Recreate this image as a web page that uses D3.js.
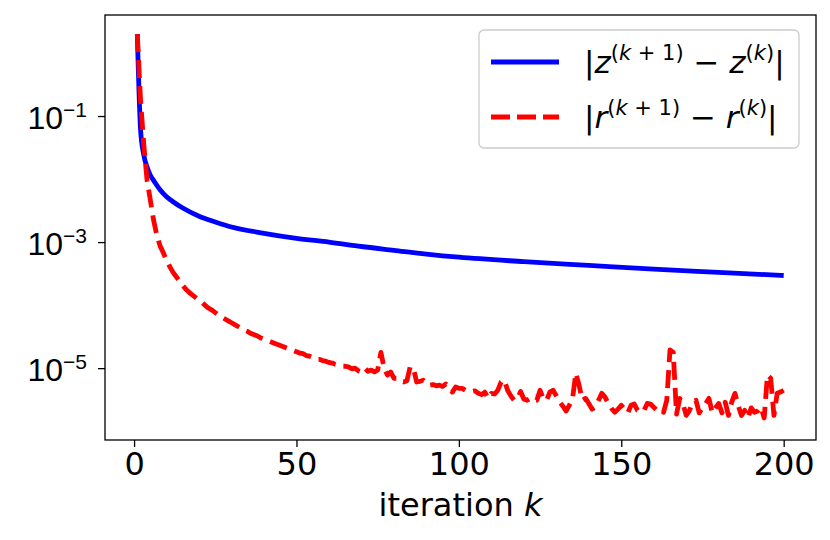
<!DOCTYPE html>
<html>
<head>
<meta charset="utf-8">
<script src="https://cdn.jsdelivr.net/npm/d3@7"></script>
<style>
  body { margin: 0; background: #fff; }
  svg { display: block; font-family: "DejaVu Sans", sans-serif; }
</style>
</head>
<body>
<svg id="chart"></svg>
<script>
// |z^(k+1) - z^(k)| at a few iterations (log10 values)
const zIter = [1, 2, 3, 4, 5, 6, 8, 10, 12, 15, 20, 25, 30, 40, 50, 60, 70, 80, 90, 100, 120, 140, 160, 180, 200];
const zLog = [0.30, -1.22, -1.62, -1.81, -1.94, -2.02, -2.17, -2.28, -2.36, -2.46, -2.59, -2.68, -2.76, -2.86, -2.94,
  -3.00, -3.07, -3.13, -3.19, -3.24, -3.31, -3.37, -3.43, -3.48, -3.53];

// |r^(k+1) - r^(k)|, one value per iteration k = 1..200 (log10 values)
const rLog = [
  0.30, -0.75, -1.46, -2.02, -2.33, -2.65, -2.89, -3.06, -3.17, -3.29,
  -3.39, -3.48, -3.55, -3.62, -3.69, -3.75, -3.80, -3.84, -3.88, -3.92,
  -3.96, -4.01, -4.05, -4.08, -4.12, -4.16, -4.19, -4.22, -4.25, -4.28,
  -4.31, -4.34, -4.37, -4.40, -4.42, -4.45, -4.47, -4.49, -4.52, -4.54,
  -4.56, -4.58, -4.60, -4.62, -4.64, -4.66, -4.68, -4.70, -4.72, -4.74,
  -4.76, -4.77, -4.80, -4.81, -4.83, -4.86, -4.86, -4.88, -4.89, -4.91,
  -4.92, -4.94, -4.95, -4.97, -4.97, -4.98, -5.01, -5.00, -5.04, -5.06,
  -5.00, -5.05, -5.03, -5.06, -5.03, -4.75, -5.00, -5.11, -5.06, -5.16,
  -5.16, -5.21, -5.22, -5.20, -4.98, -5.00, -5.22, -5.21, -5.19, -5.25,
  -5.27, -5.26, -5.28, -5.27, -5.29, -5.25, -5.30, -5.38, -5.30, -5.32,
  -5.32, -5.35, -5.36, -5.37, -5.36, -5.40, -5.42, -5.38, -5.48, -5.40,
  -5.41, -5.35, -5.22, -5.19, -5.35, -5.44, -5.51, -5.49, -5.37, -5.49,
  -5.51, -5.48, -5.52, -5.51, -5.35, -5.49, -5.51, -5.38, -5.35, -5.44,
  -5.54, -5.60, -5.68, -5.59, -5.48, -5.08, -5.27, -5.51, -5.48, -5.56,
  -5.65, -5.62, -5.51, -5.40, -5.46, -5.56, -5.64, -5.70, -5.65, -5.59,
  -5.65, -5.71, -5.59, -5.57, -5.67, -5.70, -5.67, -5.56, -5.57, -5.62,
  -5.67, -5.65, -5.70, -5.51, -4.71, -4.75, -5.73, -5.48, -5.57, -5.75,
  -5.67, -5.54, -5.51, -5.71, -5.63, -5.56, -5.48, -5.71, -5.63, -5.56,
  -5.71, -5.54, -5.75, -5.54, -5.40, -5.59, -5.75, -5.67, -5.79, -5.63,
  -5.70, -5.68, -5.62, -5.79, -5.11, -5.16, -5.75, -5.40, -5.38, -5.35
];

const xTicks = [0, 50, 100, 150, 200];
const yTickExp = [-1, -3, -5];
const legendBases = ["z", "r"];

const W = 830, H = 540;
const margin = {top: 15, right: 14, bottom: 100, left: 105};
const fs = 32, fsSup = 21;

const svg = d3.select("#chart")
  .attr("width", W)
  .attr("height", H)
  .attr("viewBox", [0, 0, W, H]);

const x = d3.scaleLinear()
  .domain([-8.95, 209.95])
  .range([margin.left, W - margin.right]);

const y = d3.scaleLog()
  .domain([Math.pow(10, -6.14), Math.pow(10, 0.603)])
  .range([H - margin.bottom, margin.top]);

const zData = zIter.map((k, i) => ({k: k, v: Math.pow(10, zLog[i])}));
const rData = rLog.map((e, i) => ({k: i + 1, v: Math.pow(10, e)}));

svg.append("clipPath")
  .attr("id", "clip")
  .append("rect")
  .attr("x", margin.left)
  .attr("y", margin.top)
  .attr("width", W - margin.left - margin.right)
  .attr("height", H - margin.top - margin.bottom);

const plot = svg.append("g").attr("clip-path", "url(#clip)");

plot.append("path")
  .datum(zData)
  .attr("fill", "none")
  .attr("stroke", "#0000ff")
  .attr("stroke-width", 4.8)
  .attr("stroke-linejoin", "round")
  .attr("d", d3.line().x(d => x(d.k)).y(d => y(d.v)).curve(d3.curveMonotoneX));

plot.append("path")
  .datum(rData)
  .attr("fill", "none")
  .attr("stroke", "#ff0000")
  .attr("stroke-width", 4.8)
  .attr("stroke-linejoin", "round")
  .attr("stroke-dasharray", "18,8")
  .attr("d", d3.line().x(d => x(d.k)).y(d => y(d.v)));

// axes
const xAxis = svg.append("g")
  .attr("transform", `translate(0,${H - margin.bottom})`)
  .call(d3.axisBottom(x).tickValues(xTicks).tickSize(7).tickSizeOuter(0));
xAxis.select(".domain").remove();
xAxis.selectAll(".tick line").attr("stroke", "#000").attr("stroke-width", 1.3);
xAxis.selectAll(".tick text")
  .attr("font-size", fs)
  .attr("font-family", "DejaVu Sans")
  .attr("fill", "#000")
  .attr("y", 12);

const yAxis = svg.append("g")
  .attr("transform", `translate(${margin.left},0)`)
  .call(d3.axisLeft(y).tickValues(yTickExp.map(e => Math.pow(10, e))).tickSize(7).tickSizeOuter(0));
yAxis.select(".domain").remove();
yAxis.selectAll(".tick line").attr("stroke", "#000").attr("stroke-width", 1.3);
yAxis.selectAll(".tick text").remove();
yAxis.selectAll(".tick").append("text")
  .attr("x", -18)
  .attr("y", 12)
  .attr("text-anchor", "end")
  .attr("fill", "#000")
  .attr("font-size", fs)
  .each(function(d) {
    const t = d3.select(this);
    t.append("tspan").text("10");
    t.append("tspan").attr("font-size", fsSup).attr("dy", -12)
      .text("\u2212" + Math.abs(Math.round(Math.log10(d))));
  });

svg.append("rect")
  .attr("x", margin.left)
  .attr("y", margin.top)
  .attr("width", W - margin.left - margin.right)
  .attr("height", H - margin.top - margin.bottom)
  .attr("fill", "none")
  .attr("stroke", "#000")
  .attr("stroke-width", 1.3);

const xl = svg.append("text")
  .attr("x", (margin.left + W - margin.right) / 2)
  .attr("y", 516)
  .attr("text-anchor", "middle")
  .attr("font-size", fs)
  .attr("fill", "#000")
  .style("white-space", "pre");
xl.append("tspan").text("iteration ");
xl.append("tspan").attr("font-style", "italic").text("k");

// legend
const legend = svg.append("g");
legend.append("rect")
  .attr("x", 479).attr("y", 30)
  .attr("width", 320).attr("height", 118)
  .attr("rx", 5)
  .attr("fill", "#fff").attr("fill-opacity", 0.8)
  .attr("stroke", "#cccccc").attr("stroke-width", 1.3);

const legendStyles = [
  {color: "#0000ff", dash: null, y: 62},
  {color: "#ff0000", dash: "19,7", y: 117}
];

legendBases.forEach((b, i) => {
  const s = legendStyles[i];
  legend.append("line")
    .attr("x1", 491).attr("x2", 559)
    .attr("y1", s.y).attr("y2", s.y)
    .attr("stroke", s.color)
    .attr("stroke-width", 4.8)
    .attr("stroke-dasharray", s.dash);

  const t = legend.append("text")
    .attr("x", 584)
    .attr("y", s.y + 11)
    .attr("font-size", 31)
    .attr("fill", "#000")
    .style("white-space", "pre");
  const parts = [
    {t: "|"}, {t: b, it: true},
    {t: "(", sup: true}, {t: "k", it: true, sup: true}, {t: " + 1)", sup: true},
    {t: " \u2212 "}, {t: b, it: true},
    {t: "(", sup: true}, {t: "k", it: true, sup: true}, {t: ")", sup: true},
    {t: "|"}
  ];
  let up = false;
  parts.forEach(p => {
    const sp = t.append("tspan").text(p.t);
    if (p.it) sp.attr("font-style", "italic");
    if (p.sup) sp.attr("font-size", fsSup);
    if (p.sup && !up) { sp.attr("dy", -13); up = true; }
    if (!p.sup && up) { sp.attr("dy", 13); up = false; }
  });
});
</script>
</body>
</html>
